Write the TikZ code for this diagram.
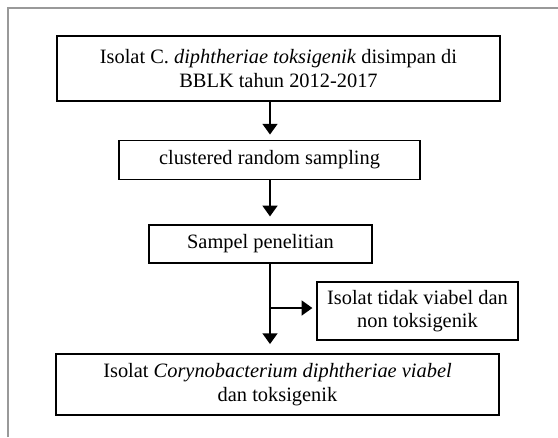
\documentclass[tikz,border=0pt]{standalone}
\usepackage{fontspec}
\setmainfont{Liberation Serif}
\usetikzlibrary{arrows.meta}
\tikzset{
  box/.style={draw, line width=0.9pt, align=center, inner sep=0pt,
    font=\fontsize{15.3}{17.5}\selectfont},
  flow/.style={line width=1.6pt, -{Triangle[width=11pt,length=8pt]}}
}
\begin{document}
\begin{tikzpicture}[x=0.75pt,y=-0.75pt]
      \useasboundingbox (0,0) rectangle (558,437);
      \draw[gray!80, line width=1.4pt] (8,437) -- (8,8) -- (558,8);
      \draw
        (278.5,68.5) node[box, minimum width=332.25pt, minimum height=48.75pt] (isolat)
          {Isolat C. \textit{diphtheriae toksigenik} disimpan di\\BBLK tahun 2012-2017}
        (269.5,160) node[box, minimum width=225.75pt, minimum height=29.25pt] (sampling)
          {clustered random sampling}
        (260.5,244) node[box, minimum width=167.25pt, minimum height=28.5pt] (sampel)
          {Sampel penelitian}
        (417.5,311) node[box, minimum width=150.75pt, minimum height=43.5pt] (tidak)
          {Isolat tidak viabel dan\\non toksigenik}
        (277.5,384.5) node[box, minimum width=332.25pt, minimum height=45.75pt] (viabel)
          {Isolat \textit{Corynobacterium diphtheriae viabel}\\dan toksigenik};
      \coordinate (spine) at (270,0);
      \coordinate (branch) at (270,308);
      \begin{scope}[flow]
        \draw[shorten >=4] (isolat.south -| spine) to (sampling.north -| spine);
        \draw[shorten >=6] (sampling.south -| spine) to (sampel.north -| spine);
        \draw[shorten >=7] (sampel.south -| spine) to (viabel.north -| spine);
        \draw[shorten >=3] (branch) to (tidak.west |- branch);
      \end{scope}
    \end{tikzpicture}
\end{document}
